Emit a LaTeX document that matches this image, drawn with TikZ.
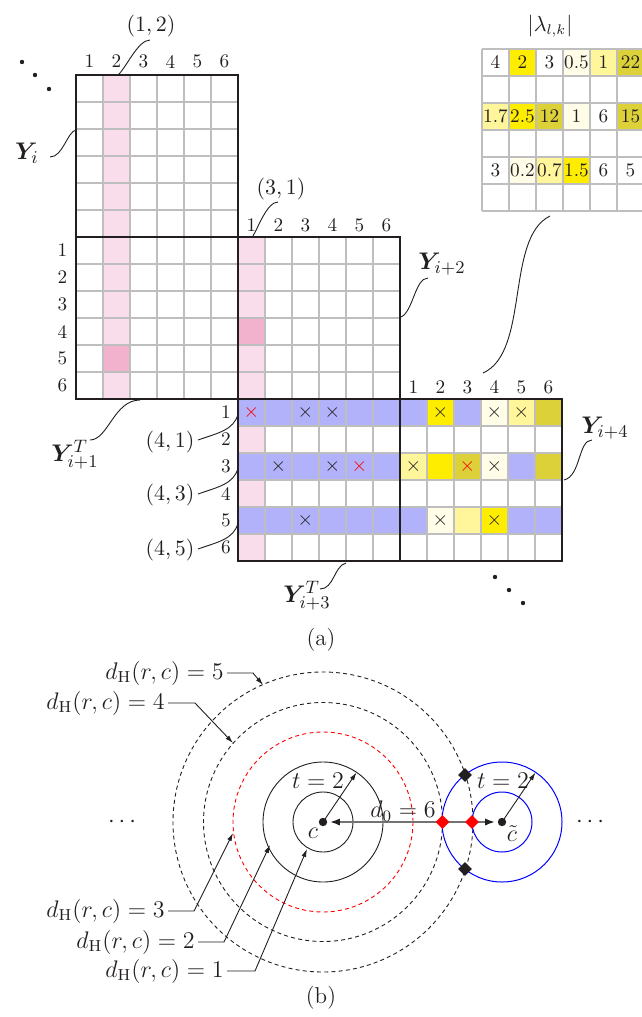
\documentclass[tikz,border=0pt]{standalone}
\usepackage{bm}
\usetikzlibrary{arrows.meta,shapes.geometric}
\definecolor{pk}{HTML}{F9DDEB}
\definecolor{pkd}{HTML}{F2B2CE}
\definecolor{bl}{HTML}{B2B2FA}
\definecolor{yl}{HTML}{FFED00}
\definecolor{ol}{HTML}{DDD13A}
\definecolor{ly}{HTML}{FFF69C}
\definecolor{pl}{HTML}{FFFCE8}
\definecolor{gr}{HTML}{BEBEBE}
\definecolor{ink}{HTML}{231F20}
\definecolor{rx}{HTML}{FF0000}
\begin{document}
\begin{tikzpicture}[x=0.5pt,y=-0.5pt,
  lbl/.style={font=\fontsize{10.5}{12}\selectfont, inner sep=0pt, text=ink},
  num/.style={font=\fontsize{9.6}{11}\selectfont, inner sep=0pt, text=ink},
  big/.style={font=\fontsize{12.5}{15}\selectfont, inner sep=0pt, text=ink},
  blbl/.style={font=\fontsize{11.5}{14}\selectfont, inner sep=0pt, text=ink},
  crs/.style={font=\fontsize{9.6}{11}\selectfont, inner sep=0pt},
  lead/.style={line width=0.45pt, draw=ink},
  gline/.style={draw=gr, line width=0.6pt},
  border/.style={draw=ink, line width=0.9pt},
  dsh/.style={line width=0.45pt, dash pattern=on 2pt off 1.6pt},
  tip/.style={-{Latex[length=4pt,width=2.4pt]}},
  dot/.style={circle, fill=ink, inner sep=0pt, minimum size=4.2pt},
  dmd/.style={diamond, inner sep=0pt, minimum size=7pt}]
\useasboundingbox (0,0) rectangle (642,1017);
\clip (0,0) rectangle (642,1017);

% ---------------- (a) matrices ----------------
\begin{scope}[shift={(76,75)},x=13.5pt,y=-13.5pt]
  \fill[pk] (1,0) rectangle (2,12);
  \fill[pkd] (1,10) rectangle (2,11);
  \fill[pk] (6,6) rectangle (7,18);
  \fill[pkd] (6,9) rectangle (7,10);
  \fill[bl] (6,12) rectangle (12,13);
  \fill[bl] (6,14) rectangle (12,15);
  \fill[bl] (6,16) rectangle (12,17);
  \foreach \c/\r/\col in {12/12/bl,13/12/yl,14/12/bl,15/12/pl,16/12/ly,17/12/ol,
      12/14/ly,13/14/yl,14/14/ol,15/14/pl,16/14/bl,17/14/ol,
      12/16/bl,13/16/pl,14/16/ly,15/16/yl,16/16/bl,17/16/bl}
    \fill[\col] (\c,\r) rectangle ++(1,1);
  % grid lines
  \foreach \i in {0,...,6} \draw[gline] (\i,0) -- (\i,12);
  \foreach \j in {0,...,12} \draw[gline] (0,\j) -- (6,\j);
  \foreach \i in {6,...,12} \draw[gline] (\i,6) -- (\i,18);
  \foreach \j in {6,...,18} \draw[gline] (6,\j) -- (12,\j);
  \foreach \i in {12,...,18} \draw[gline] (\i,12) -- (\i,18);
  \foreach \j in {12,...,18} \draw[gline] (12,\j) -- (18,\j);
  \draw[border] (0,0) rectangle (6,6) (0,6) rectangle (6,12)
     (6,6) rectangle (12,12) (6,12) rectangle (12,18) (12,12) rectangle (18,18);
  \foreach \k in {1,...,6} {
    \node[num] (ca\k) at (\k-0.5,-0.5) {\k};
    \node[num] (cb\k) at (5.5+\k,5.55) {\k};
    \node[num] (cc\k) at (11.5+\k,11.55) {\k};
    \node[num] (ra\k) at (-0.5,5.5+\k) {\k};
    \node[num] (rb\k) at (5.55,11.5+\k) {\k};
  }
  \foreach \c/\r/\col [count=\n] in {6/12/rx,8/12/ink,9/12/ink,13/12/ink,15/12/ink,16/12/ink,
      7/14/ink,9/14/ink,10/14/rx,12/14/ink,14/14/rx,15/14/ink,
      8/16/ink,13/16/ink,15/16/ink}
    \node[crs,text=\col] (x\n) at (\c+0.5,\r+0.5) {$\times$};
\end{scope}

% ---------------- lambda table ----------------
\begin{scope}[shift={(482,49)},x=13.5pt,y=-13.5pt]
  \foreach \c/\r/\col in {1/0/yl,3/0/pl,4/0/ly,5/0/ol,
      0/2/ly,1/2/yl,2/2/ol,3/2/pl,5/2/ol,
      1/4/pl,2/4/ly,3/4/yl}
    \fill[\col] (\c,\r) rectangle ++(1,1);
  \foreach \i in {0,...,6} \draw[gline] (\i,0) -- (\i,6);
  \foreach \j in {0,...,6} \draw[gline] (0,\j) -- (6,\j);
  \foreach \v [count=\n from 0] in {4,2,3,0.5,1,22}
    \node[num] (la\n) at (\n+0.5,0.5) {\v};
  \foreach \v [count=\n from 0] in {1.7,2.5,12,1,6,15}
    \node[num] (lb\n) at (\n+0.5,2.5) {\v};
  \foreach \v [count=\n from 0] in {3,0.2,0.7,1.5,6,5}
    \node[num] (lc\n) at (\n+0.5,4.5) {\v};
\end{scope}
\node[lbl] (lam) at (550,26) {$|\lambda_{l,k}|$};

% ---------------- labels (a) ----------------
\node[lbl] (p12) at (151,26) {$(1,2)$};
\node[lbl] (p31) at (281,189) {$(3,1)$};
\node[lbl] (p41) at (170,442) {$(4,1)$};
\node[lbl] (p43) at (170,495) {$(4,3)$};
\node[lbl] (p45) at (170,550) {$(4,5)$};
\node[big] (Yi) at (27,153) {$\bm{Y}_{i}$};
\node[big] (Yi2) at (442,264) {$\bm{Y}_{i+2}$};
\node[big] (Yi1) at (75,455) {$\bm{Y}^{T}_{i+1}$};
\node[big] (Yi4) at (605,428) {$\bm{Y}_{i+4}$};
\node[big] (Yi3) at (307,596) {$\bm{Y}^{T}_{i+3}$};
\node[blbl] (capa) at (321,640) {(a)};

\foreach \x/\y [count=\n] in {22/62,35/75,49/89}
  \node[dot,minimum size=2.2pt] (da\n) at (\x,\y) {};
\foreach \x/\y [count=\n] in {495/577,509/590,523/603}
  \node[dot,minimum size=2.2pt] (db\n) at (\x,\y) {};

% leader curves (a)
\coordinate (a1) at (150,40);  \coordinate (b1) at (118,75);
\draw[lead] (a1) .. controls (138,40) and (126,68) .. (b1);
\coordinate (a2) at (278,202); \coordinate (b2) at (253,236);
\draw[lead] (a2) .. controls (267,202) and (258,228) .. (b2);
\coordinate (a3) at (50,157);  \coordinate (b3) at (76,130);
\draw[lead] (a3) .. controls (63,157) and (67,132) .. (b3);
\coordinate (a4) at (428,278); \coordinate (b4) at (401,317);
\draw[lead] (a4) .. controls (415,278) and (413,312) .. (b4);
\coordinate (a5) at (550,216); \coordinate (b5) at (483,373);
\draw[lead] (a5) .. controls (505,238) and (530,352) .. (b5);
\coordinate (a6) at (90,440);  \coordinate (b6) at (140,400);
\draw[lead] (a6) .. controls (108,440) and (114,400) .. (b6);
\coordinate (a7) at (198,440); \coordinate (b7) at (238,414);
\draw[lead] (a7) .. controls (218,433) and (234,430) .. (b7);
\coordinate (a8) at (198,494); \coordinate (b8) at (238,468);
\draw[lead] (a8) .. controls (218,487) and (234,484) .. (b8);
\coordinate (a9) at (198,549); \coordinate (b9) at (238,523);
\draw[lead] (a9) .. controls (218,542) and (234,539) .. (b9);
\coordinate (a10) at (592,440); \coordinate (b10) at (564,480);
\draw[lead] (a10) .. controls (578,440) and (581,476) .. (b10);
\coordinate (a11) at (320,589); \coordinate (b11) at (346,563);
\draw[lead] (a11) .. controls (334,589) and (334,566) .. (b11);

% ---------------- (b) ----------------
\coordinate (c) at (323,822);
\coordinate (ct) at (502,822);
\draw[dsh,ink] (c) circle[radius=150];
\draw[dsh,ink] (c) circle[radius=119.5];
\draw[dsh,red] (c) circle[radius=90];
\draw[lead] (c) circle[radius=30] (c) circle[radius=60];
\draw[line width=0.5pt,blue] (ct) circle[radius=30] (ct) circle[radius=60];

\draw[line width=1pt,draw=black!55,
  {Latex[length=5pt,width=3.6pt,fill=ink,color=ink]}-{Latex[length=5pt,width=3.6pt,fill=ink,color=ink]},
  shorten <=3.4pt, shorten >=3.4pt] (c) -- (ct);

\coordinate (r1) at (356.5,772.5);
\coordinate (r2) at (535.5,772.5);
\draw[lead,tip] (c) -- (r1);
\draw[lead,tip] (ct) -- (r2);

\node[dot] (cdot) at (c) {};
\node[dot] (ctdot) at (ct) {};
\node[dmd,fill=red] (m1) at (442.5,822) {};
\node[dmd,fill=red] (m2) at (472,822) {};
\node[dmd,fill=ink] (m3) at (465,775) {};
\node[dmd,fill=ink] (m4) at (465,869) {};

\node[blbl] (lc) at (313,833) {$c$};
\node[blbl] (lct) at (512,834) {$\tilde{c}$};
\node[blbl] (t1) at (318,781) {$t=2$};
\node[blbl] (t2) at (503,781) {$t=2$};
\node[blbl] (d0) at (403,811) {$d_0=6$};
\node[blbl] (dl) at (122,822) {$\cdots$};
\node[blbl] (dr) at (590,822) {$\cdots$};

\node[blbl,anchor=east] (h5) at (224,673) {$d_{\mathrm{H}}(r,c)=5$};
\node[blbl,anchor=east] (h4) at (165,703) {$d_{\mathrm{H}}(r,c)=4$};
\node[blbl,anchor=east] (h3) at (165,911) {$d_{\mathrm{H}}(r,c)=3$};
\node[blbl,anchor=east] (h2) at (195,942) {$d_{\mathrm{H}}(r,c)=2$};
\node[blbl,anchor=east] (h1) at (224,971) {$d_{\mathrm{H}}(r,c)=1$};
\coordinate (k5) at (253,673); \coordinate (e5) at (263,685);
\coordinate (k4) at (195,703); \coordinate (e4) at (233,743);
\coordinate (k3) at (194,911); \coordinate (e3) at (233,833);
\coordinate (k2) at (224,942); \coordinate (e2) at (270,845);
\coordinate (k1) at (255,971); \coordinate (e1) at (307,849);
\draw[lead,tip] ([xshift=1.5pt]h5.east) -- (k5) -- (e5);
\draw[lead,tip] ([xshift=1.5pt]h4.east) -- (k4) -- (e4);
\draw[lead,tip] ([xshift=1.5pt]h3.east) -- (k3) -- (e3);
\draw[lead,tip] ([xshift=1.5pt]h2.east) -- (k2) -- (e2);
\draw[lead,tip] ([xshift=1.5pt]h1.east) -- (k1) -- (e1);

\node[blbl] (capb) at (321,998) {(b)};
\end{tikzpicture}
\end{document}
